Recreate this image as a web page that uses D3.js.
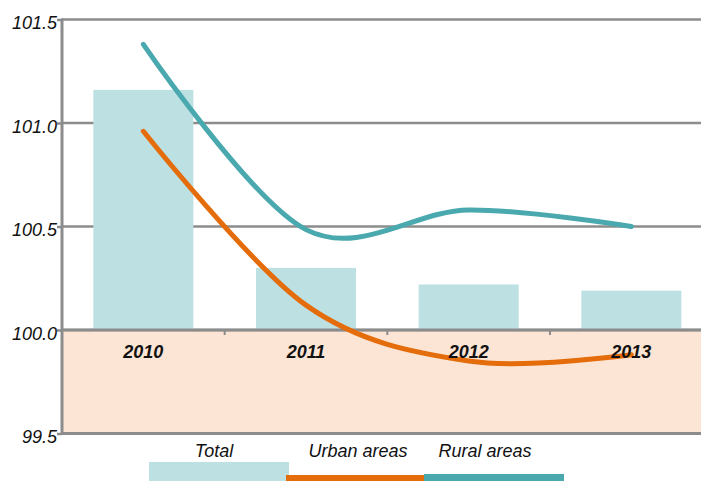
<!DOCTYPE html>
<html>
<head>
<meta charset="utf-8">
<script src="https://cdn.jsdelivr.net/npm/d3@7"></script>
<style>
  html, body { margin: 0; padding: 0; background: #fff; }
  svg { display: block; font-family: "Liberation Sans", Arial, sans-serif; }
</style>
</head>
<body>
<svg id="chart" width="701" height="481"></svg>
<script>
// Index values by year
const years = ["2010", "2011", "2012", "2013"];
const totalValues = [101.16, 100.30, 100.22, 100.19];
const urbanValues = [100.96, 100.12, 99.85, 99.88];
const ruralValues = [101.38, 100.485, 100.58, 100.50];
const yTicks = [99.5, 100.0, 100.5, 101.0, 101.5];
const legendLabels = ["Total", "Urban areas", "Rural areas"];

const colors = {
  total: "#bde0e2",
  urban: "#e46c0a",
  rural: "#4aa9ae",
  below: "#fde5d5",
  grid: "#8c8c8c"
};

const svg = d3.select("#chart");
const plotLeft = 62, plotRight = 712.7, plotTop = 19.5, plotBottom = 433.5;

const x = d3.scaleBand().domain(years).range([plotLeft, plotRight]).paddingInner(0.385).paddingOuter(0.1925);
const xc = d => x(d) + x.bandwidth() / 2;
const y = d3.scaleLinear().domain([99.5, 101.5]).range([plotBottom, plotTop]);

// shaded band below 100
svg.append("rect")
  .attr("x", plotLeft).attr("y", y(100))
  .attr("width", 701 - plotLeft).attr("height", y(99.5) - y(100))
  .attr("fill", colors.below);

// horizontal grid lines
svg.append("g").selectAll("line").data(yTicks.filter(v => v > 99.5)).join("line")
  .attr("x1", plotLeft).attr("x2", 701)
  .attr("y1", d => y(d)).attr("y2", d => y(d))
  .attr("stroke", colors.grid).attr("stroke-width", 2.5);

// bars
svg.append("g").selectAll("rect").data(years).join("rect")
  .attr("x", d => x(d))
  .attr("width", x.bandwidth())
  .attr("y", (d, i) => y(totalValues[i]))
  .attr("height", (d, i) => y(100) - y(totalValues[i]))
  .attr("fill", colors.total);

// redraw 100 line over bars
svg.append("line")
  .attr("x1", plotLeft).attr("x2", 701)
  .attr("y1", y(100)).attr("y2", y(100))
  .attr("stroke", colors.grid).attr("stroke-width", 3);

// category boundary ticks on the 100 line
const bounds = years.slice(1).map(d => x(d) - x.step() * x.paddingInner() / 2);
svg.append("g").selectAll("line").data(bounds).join("line")
  .attr("x1", d => d).attr("x2", d => d)
  .attr("y1", y(100)).attr("y2", y(100) + 5)
  .attr("stroke", colors.grid).attr("stroke-width", 2);

// y axis
const yAxis = d3.axisLeft(y).tickValues(yTicks).tickFormat(d3.format(".1f")).tickSize(5).tickPadding(0);
const ga = svg.append("g").attr("transform", `translate(${plotLeft},0)`).call(yAxis);
ga.select(".domain").remove();
ga.selectAll(".tick line").attr("stroke", colors.grid).attr("stroke-width", 2.5);
ga.selectAll(".tick text")
  .attr("font-size", 18).attr("font-style", "italic").attr("fill", "#111")
  .attr("dy", "0.52em")
  .attr("font-family", "'Liberation Sans', Arial, sans-serif");
svg.append("line")
  .attr("x1", plotLeft).attr("x2", plotLeft)
  .attr("y1", plotTop - 1).attr("y2", plotBottom + 1.5)
  .attr("stroke", colors.grid).attr("stroke-width", 3);
svg.append("line")
  .attr("x1", plotLeft).attr("x2", 701)
  .attr("y1", plotBottom).attr("y2", plotBottom)
  .attr("stroke", colors.grid).attr("stroke-width", 3);

// smooth lines
const line = d3.line().x(d => xc(d.year)).y(d => y(d.value)).curve(d3.curveCardinal.tension(0));
const series = [
  { values: urbanValues, color: colors.urban },
  { values: ruralValues, color: colors.rural }
];
svg.append("g").selectAll("path").data(series).join("path")
  .attr("d", s => line(years.map((yr, i) => ({ year: yr, value: s.values[i] }))))
  .attr("fill", "none")
  .attr("stroke", s => s.color)
  .attr("stroke-width", 5)
  .attr("stroke-linecap", "round");

// year labels
svg.append("g").selectAll("text").data(years).join("text")
  .attr("x", d => xc(d)).attr("y", y(100) + 28)
  .attr("text-anchor", "middle")
  .attr("font-size", 18).attr("font-weight", "bold").attr("font-style", "italic")
  .attr("fill", "#111")
  .text(d => d);

// legend
const legend = [
  { label: legendLabels[0], x0: 149, x1: 289, y0: 462, h: 19, color: colors.total },
  { label: legendLabels[1], x0: 286, x1: 424, y0: 475, h: 6, color: colors.urban },
  { label: legendLabels[2], x0: 424, x1: 564, y0: 474, h: 7, color: colors.rural }
];
const lg = svg.append("g");
lg.selectAll("rect").data(legend).join("rect")
  .attr("x", d => d.x0).attr("y", d => d.y0)
  .attr("width", d => d.x1 - d.x0).attr("height", d => d.h)
  .attr("fill", d => d.color);
const labelX = [214, 358, 485];
lg.selectAll("text").data(legend).join("text")
  .attr("x", (d, i) => labelX[i]).attr("y", 457)
  .attr("text-anchor", "middle")
  .attr("font-size", 18).attr("font-style", "italic").attr("fill", "#111")
  .text(d => d.label);
</script>
</body>
</html>
